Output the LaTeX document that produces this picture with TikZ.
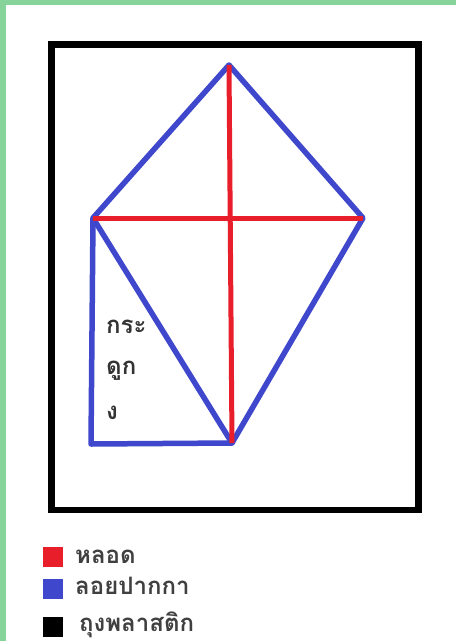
\documentclass[tikz,border=0pt]{standalone}
\usepackage{fontspec}
\newfontfamily\thaifont[Script=Thai]{Loma}
\definecolor{kred}{RGB}{232,30,42}
\definecolor{kblue}{RGB}{63,72,204}
\definecolor{kgreen}{RGB}{134,212,154}
\begin{document}
\begin{tikzpicture}[x=1pt,y=-1pt,
  blueline/.style={draw=kblue,line width=5.5pt,line join=round,line cap=round},
  redline/.style={draw=kred,line width=5pt},
  swatch/.style={minimum width=20pt,minimum height=20pt,inner sep=0pt,anchor=north west},
  legtext/.style={font=\thaifont\bfseries\fontsize{24}{27}\selectfont,anchor=base west,inner sep=0pt,text=black!75},
  lbl/.style={font=\thaifont\bfseries\fontsize{24}{27}\selectfont,anchor=base west,inner sep=0pt,text=black!80}]
\useasboundingbox (0,0) rectangle (456,641);
\fill[white] (0,0) rectangle (456,641);
\fill[kgreen] (0,0) rectangle (456,5);
\fill[kgreen] (0,0) rectangle (6,641);
% plastic bag frame
\draw[line width=6.5pt] (51.5,44.5) rectangle (418.5,510);
% kite points
\coordinate (T) at (229,65);
\coordinate (L) at (93,218);
\coordinate (R) at (363,218);
\coordinate (B) at (232,443);
\coordinate (C) at (91,444);
% blue outline
\draw[blueline] (T) -- (L) -- (B) -- (R) -- cycle;
\draw[blueline] (L) -- (C) -- (B);
% red straws
\draw[redline] (L) -- (R);
\draw[redline] (T) -- (B);
% label
\node[lbl] (l1) at (106,333) {กระ};
\node[lbl] (l2) at (106,374) {ดูก};
\node[lbl] (l3) at (106,419) {ง};
% legend
\node[swatch,fill=kred] (s1) at (43,547) {};
\node[swatch,fill=kblue] (s2) at (43,579) {};
\node[swatch,fill=black] (s3) at (43,617) {};
\node[legtext] (t1) at (75,563) {หลอด};
\node[legtext] (t2) at (75,594) {ลอยปากกา};
\node[legtext] (t3) at (79,631) {ถุงพลาสติก};
\end{tikzpicture}
\end{document}
